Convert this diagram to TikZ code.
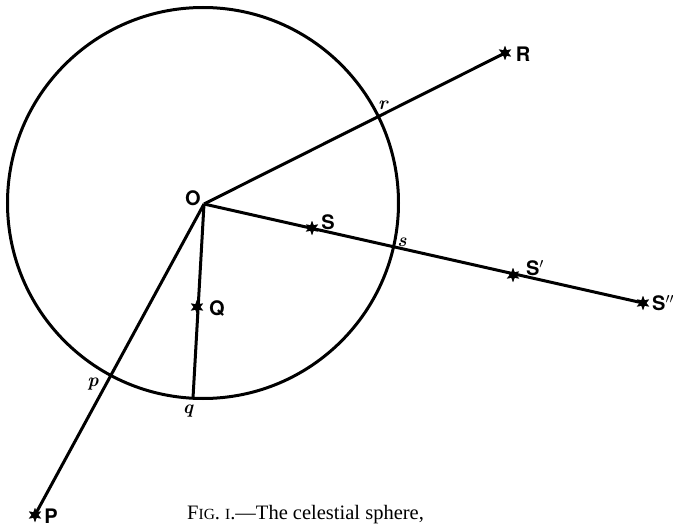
\documentclass[tikz,border=0pt]{standalone}
\usepackage{fontspec}
\newfontfamily\labfont{TeX Gyre Heros}
\newfontfamily\capfont[Ligatures=TeX]{Liberation Serif}
\usetikzlibrary{shapes.geometric}
\tikzset{
  ln/.style={line width=3pt},
  starn/.style={star, star points=6, star point ratio=2.2, fill=black, draw=none, inner sep=0pt, minimum size=14pt},
  biglab/.style={font=\labfont\bfseries\fontsize{20}{20}\selectfont, inner sep=0pt},
  smalllab/.style={font=\bfseries\itshape\fontsize{19}{19}\selectfont, inner sep=0pt},
}
\begin{document}
\begin{tikzpicture}[x=1pt,y=-1pt]
\useasboundingbox (0,0) rectangle (673,527);
\coordinate (O) at (204,204);
\node[starn] (R) at (505,53) {};
\node[starn] (S) at (312,228) {};
\node[starn] (S1) at (513,275) {};
\node[starn] (S2) at (643,303) {};
\node[starn] (Q) at (197,307) {};
\node[starn] (P) at (35,515) {};
\coordinate (q) at (193,398);
\draw[ln] (203,203) circle (195.5);
\draw[ln] (O) -- (R.center);
\draw[ln] (O) -- (S2.center);
\draw[ln] (O) -- (P.center);
\draw[ln] (O) -- (q);
\foreach \n in {R,S,S1,S2,Q,P} \node[starn] at (\n) {};
\node[biglab] (Ol) at (193,198) {O};
\node[biglab] (Rl) at (523,54) {R};
\node[biglab] (Sl) at (328,222) {S};
\node[biglab] (S1l) at (535,268) {S$'$};
\node[biglab,anchor=west] (S2l) at (652,303) {S$''$};
\node[biglab] (Ql) at (217,309) {Q};
\node[biglab] (Pl) at (51,516) {P};
\node[smalllab] (rl) at (383,105) {r};
\node[smalllab] (sl) at (402,242) {s};
\node[smalllab] (pl) at (93,384) {p};
\node[smalllab] (ql) at (188,411) {q};
\node[anchor=west, inner sep=0pt, font=\capfont\fontsize{20.5}{20.5}\selectfont] (cap) at (187,515) {F{\fontsize{15.5}{15.5}\selectfont IG}. {\fontsize{15.5}{15.5}\selectfont I}.---The celestial sphere,};
\end{tikzpicture}
\end{document}
